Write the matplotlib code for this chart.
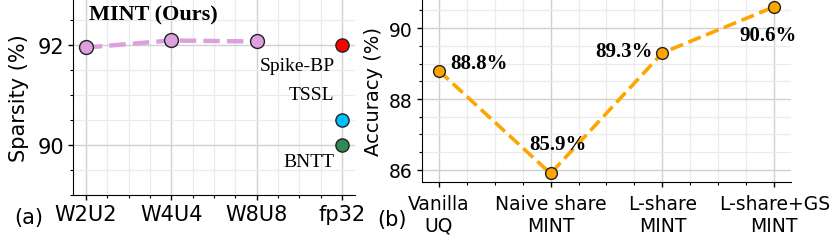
import matplotlib
matplotlib.use("Agg")
import matplotlib.pyplot as plt
from matplotlib.ticker import MultipleLocator

# (a) sparsity per quantisation setting
quant_labels = ["W2U2", "W4U4", "W8U8", "fp32"]
mint_sparsity = [91.95, 92.09, 92.07]
baseline_names = ["Spike-BP", "TSSL", "BNTT"]
baseline_sparsity = [92.0, 90.5, 90.0]
baseline_colors = ["#ff0000", "#00bfff", "#2e8b57"]

# (b) accuracy per sharing scheme
scheme_labels = ["Vanilla\nUQ", "Naive share\nMINT", "L-share\nMINT", "L-share+GS\nMINT"]
accuracy = [88.8, 85.9, 89.3, 90.6]

serif = ["Liberation Serif", "DejaVu Serif"]

fig = plt.figure(figsize=(8.3, 2.53), dpi=100)
ax1 = fig.add_axes([0.088, 0.2253, 0.3397, 0.7747])
ax2 = fig.add_axes([0.5084, 0.2767, 0.4446, 0.7233])


def style_axis(ax, fs):
    for s in ["top", "right"]:
        ax.spines[s].set_visible(False)
    ax.xaxis.set_minor_locator(MultipleLocator(0.25))
    ax.yaxis.set_minor_locator(MultipleLocator(0.5))
    ax.grid(True, which="major", color="#d0d0d0", lw=1.0)
    ax.grid(True, which="minor", color="#ebebeb", lw=0.9)
    ax.set_axisbelow(True)
    ax.tick_params(which="major", length=3.5, width=1.0, labelsize=fs, pad=3)
    ax.tick_params(which="minor", length=2.5, width=0.8)
    ax.set_xlim(-0.15, 3.15)


# ---- (a)
style_axis(ax1, 15)
x_mint = list(range(len(mint_sparsity)))
ax1.plot(x_mint, mint_sparsity, ls="--", color="#dda0dd", lw=3.2, zorder=2)
ax1.plot(x_mint, mint_sparsity, ls="none", marker="o", ms=10,
         mfc="#dda0dd", mec="#222222", mew=1.0, zorder=3)
fp_x = len(quant_labels) - 1
for name, val, c in zip(baseline_names, baseline_sparsity, baseline_colors):
    ax1.plot(fp_x, val, marker="o", ms=9.5, mfc=c, mec="#222222", mew=1.0, zorder=3)

ax1.set_xticks(range(len(quant_labels)))
ax1.set_xticklabels(quant_labels)
ax1.yaxis.set_major_locator(MultipleLocator(2))
ax1.set_ylim(89.0, 92.92)
ax1.set_ylabel("Sparsity (%)", fontsize=15)
ax1.yaxis.set_label_coords(-0.156, 0.5)

ax1.text(0.035, 92.62, "MINT (Ours)", family=serif, fontsize=16,
         fontweight="bold", ha="left", va="center")
offsets_a = [(-7, -21), (-8, 25), (-8, -17)]
for name, val, off in zip(baseline_names, baseline_sparsity, offsets_a):
    ax1.annotate(name, (fp_x, val), xytext=off, textcoords="offset pixels",
                 family=serif, fontsize=14, ha="right", va="center")
fig.text(0.035, 1 - 218 / 253, "(a)", fontsize=15, ha="center", va="center")

# ---- (b)
style_axis(ax2, 13.5)
x_s = list(range(len(accuracy)))
ax2.plot(x_s, accuracy, ls="--", color="#ffa500", lw=2.6, zorder=2)
ax2.plot(x_s, accuracy, ls="none", marker="o", ms=8.5,
         mfc="#ffa500", mec="#222222", mew=1.0, zorder=3)
ax2.set_xticks(x_s)
ax2.set_xticklabels(scheme_labels)
ax2.tick_params(axis="x", pad=5)
ax2.yaxis.set_major_locator(MultipleLocator(2))
ax2.set_ylim(85.66, 90.82)
ax2.set_ylabel("Accuracy (%)", fontsize=14)
ax2.yaxis.set_label_coords(-0.106, 0.5)

offsets_b = [((12, 8), "left"), ((7, 29), "center"), ((-10, 2), "right"), ((-6, -28), "center")]
for xi, val, (off, ha) in zip(x_s, accuracy, offsets_b):
    ax2.annotate(f"{val:.1f}%", (xi, val), xytext=off, textcoords="offset pixels",
                 family=serif, fontsize=15, fontweight="bold", ha=ha, va="center")
fig.text(392 / 830, 1 - 220 / 253, "(b)", fontsize=15, ha="center", va="center")

fig.savefig("out.png", dpi=100)
